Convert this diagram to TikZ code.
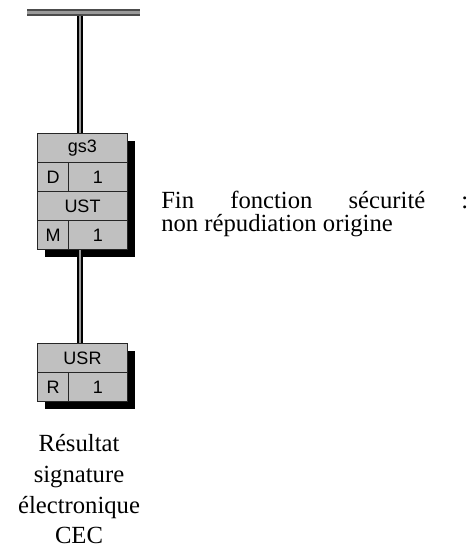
\documentclass[tikz,border=0pt]{standalone}
\usepackage{fontspec}
\setmainfont{Liberation Serif}
\newfontfamily\boxfont{Liberation Sans}
\definecolor{boxgray}{HTML}{C0C0C0}
\definecolor{pipegray}{HTML}{9A9A9A}
\begin{document}
\begin{tikzpicture}[x=0.75pt,y=-0.75pt,
  cell/.style={draw=black!85, fill=boxgray, line width=0.75pt, inner sep=0pt,
    minimum height=21.75pt, anchor=north west,
    font=\boxfont\fontsize{13.5}{14}\selectfont},
  wide/.style={cell, minimum width=67.5pt},
  narrow/.style={cell, minimum width=23.25pt},
  rest/.style={cell, minimum width=44.25pt},
  pipe/.style={draw=black, line width=1.5pt, double=pipegray, double distance=1.5pt},
  bar/.style={draw=black!70, line width=1.5pt, double=pipegray, double distance=2.25pt},
  shadow/.style={fill=black},
  txt/.style={anchor=base, inner sep=0pt, font=\fontsize{18.5}{22}\selectfont}]
\useasboundingbox (0,0) rectangle (472,549);
\fill[white] (0,0) rectangle (472,549);
% top bar
\coordinate (bl) at (27,12.5);
\coordinate (br) at (140,12.5);
\coordinate (bar) at (80,12.5);
% shadows
\fill[shadow] (45,141) rectangle (135,257);
\fill[shadow] (45,351) rectangle (135,409);
% gs3 block
\node[wide]   (g1)  at (37,133) {gs3};
\node[narrow] (g2a) at (37,162) {D};
\node[rest]   (g2b) at (68,162) {1};
\node[wide]   (g3)  at (37,191) {UST};
\node[narrow] (g4a) at (37,220) {M};
\node[rest]   (g4b) at (68,220) {1};
% USR block
\node[wide]   (u1)  at (37,343) {USR};
\node[narrow] (u2a) at (37,372) {R};
\node[rest]   (u2b) at (68,372) {1};
% connectors
\draw[pipe] (bar) -- (bar |- g1.north);
\draw[pipe] (bar |- g4a.south) -- (bar |- u1.north);
\draw[bar] (bl) -- (br);
% right text
\node[txt, anchor=base west] (fin) at (161,208)
  {\hbox to 230.25pt{Fin\hfill fonction\hfill sécurité\hfill :}};
\node[txt, anchor=base west] (non) at (161,231) {non répudiation origine};
% left text
\node[txt] (r1) at (79,451) {Résultat};
\node[txt] (r2) at (79,482) {signature};
\node[txt] (r3) at (79,513) {électronique};
\node[txt] (r4) at (79,543) {CEC};
\end{tikzpicture}
\end{document}
